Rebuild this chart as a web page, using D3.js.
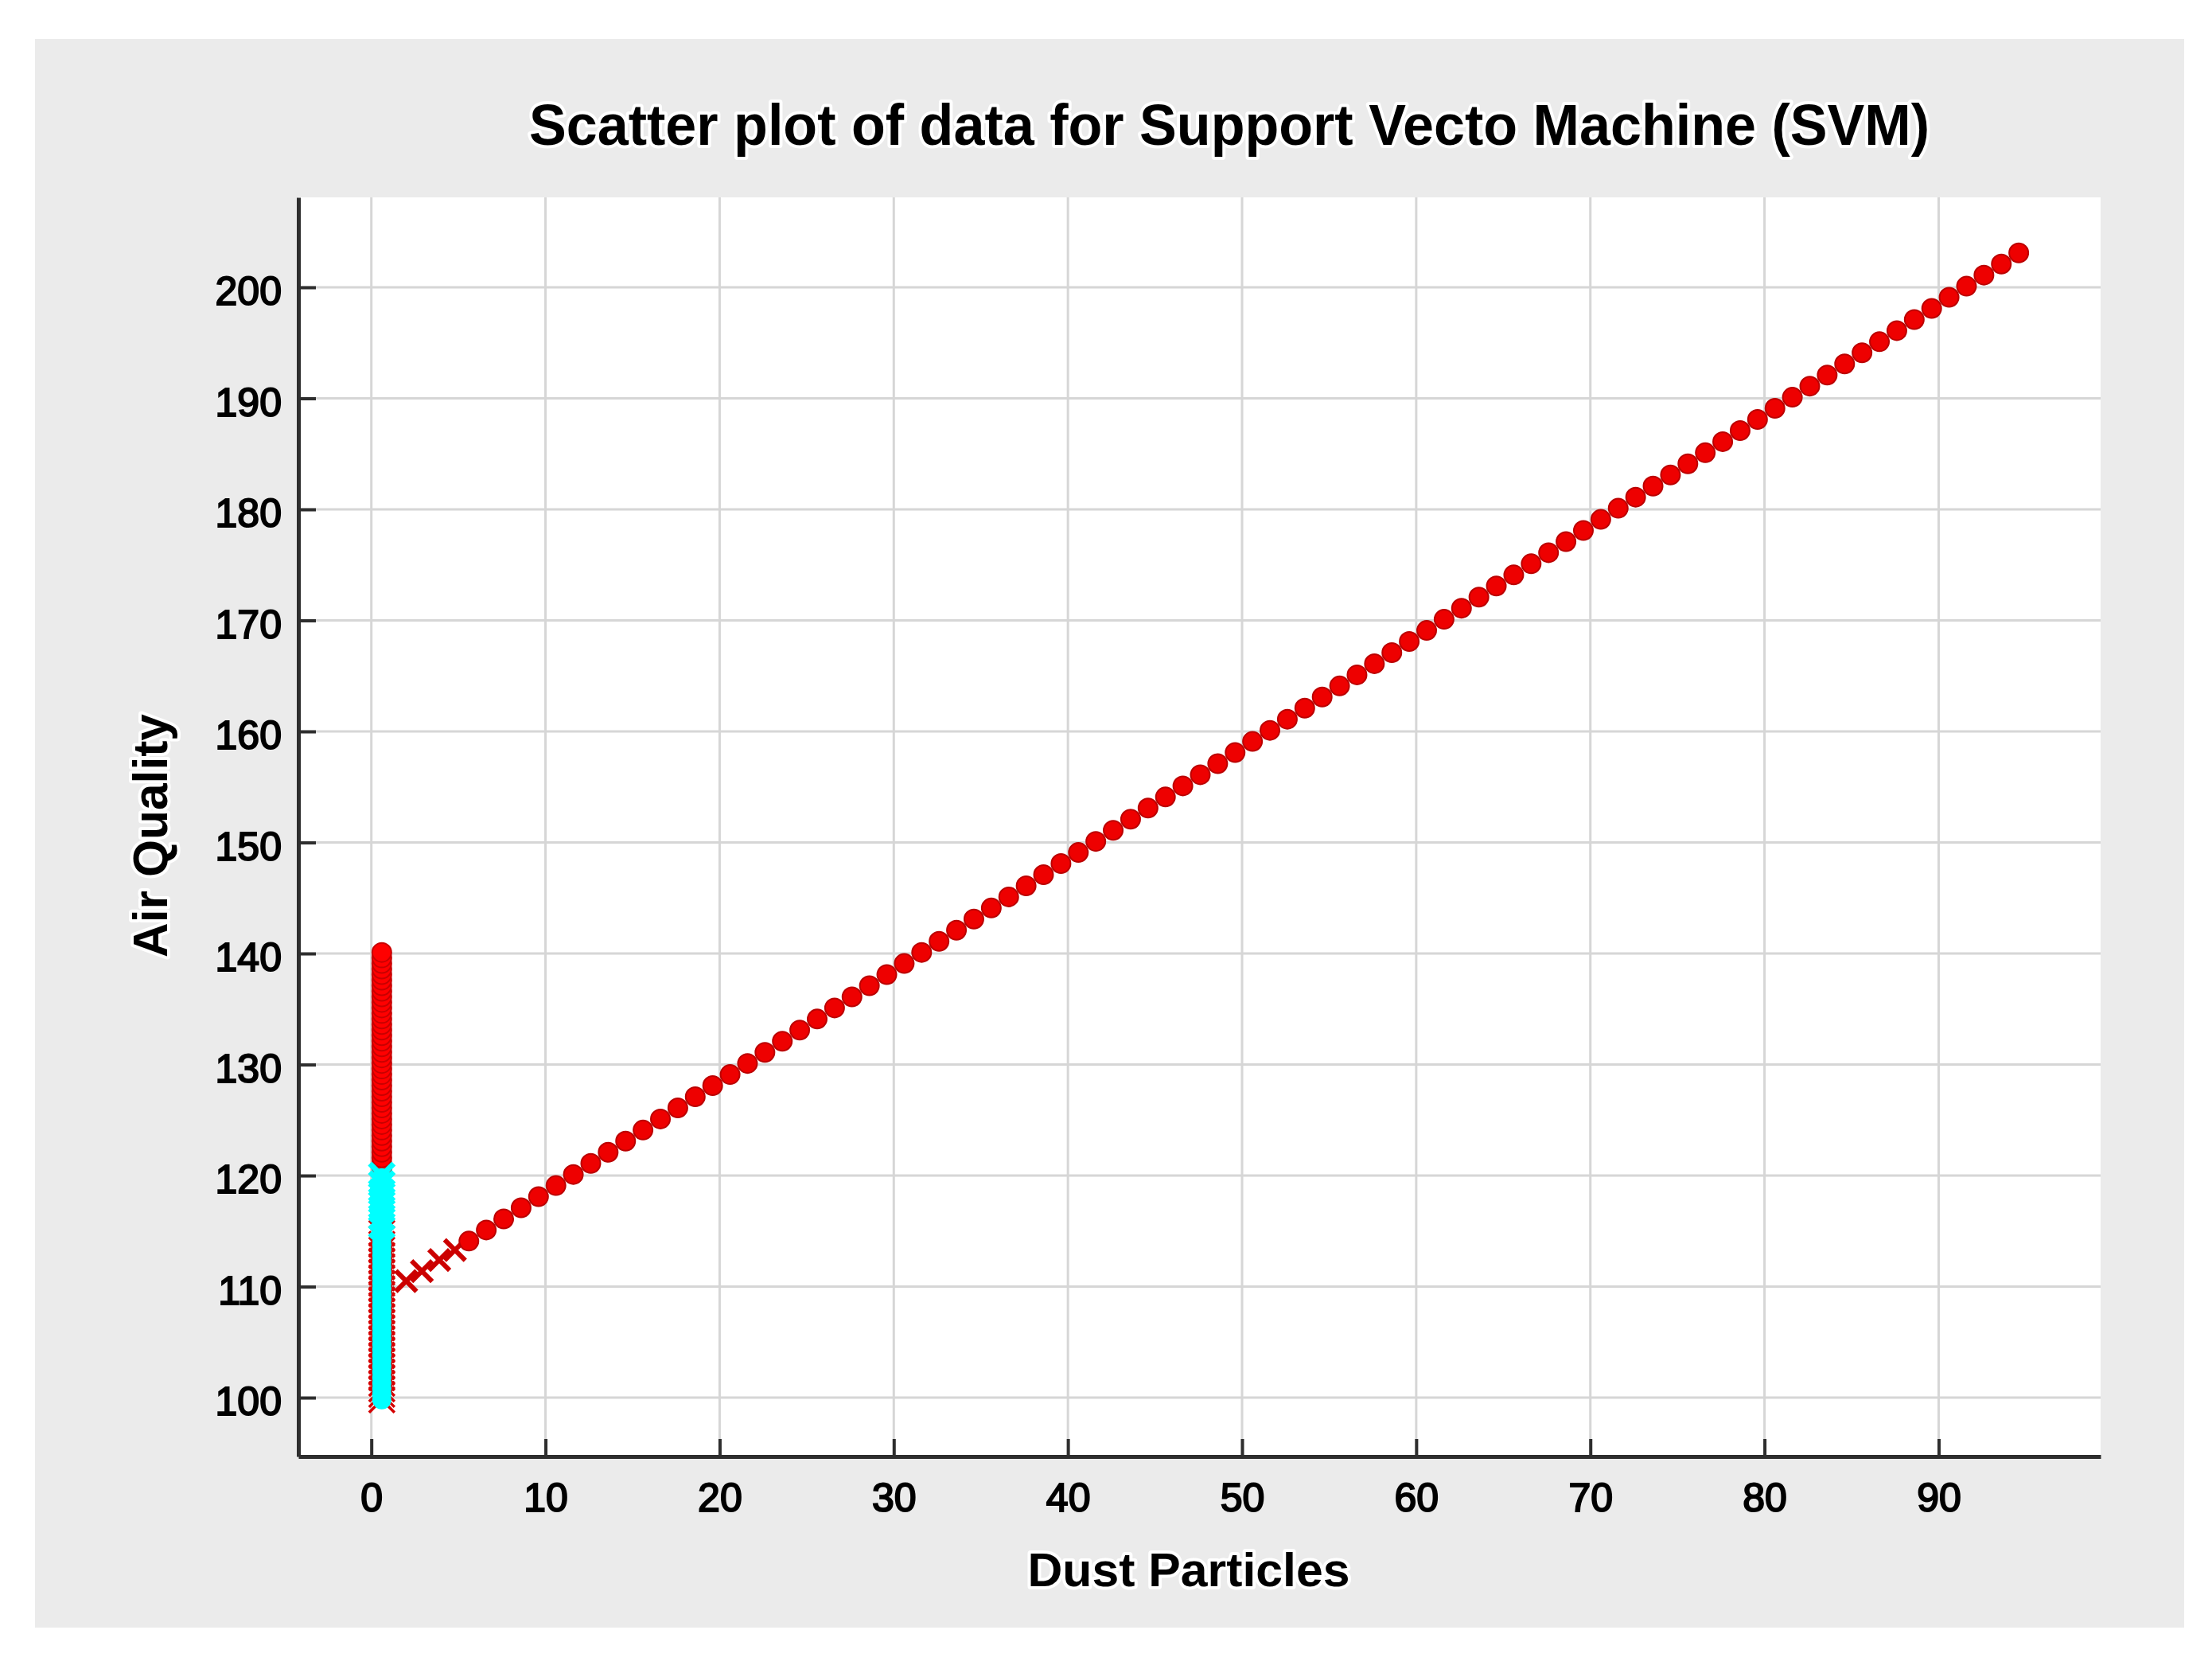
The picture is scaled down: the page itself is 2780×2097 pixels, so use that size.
<!DOCTYPE html>
<html>
<head>
<meta charset="utf-8">
<script src="https://cdn.jsdelivr.net/npm/d3@7.9.0/dist/d3.min.js"></script>
<style>
  body { margin: 0; background: #fff; }
  text { font-family: "Liberation Sans", Arial, sans-serif; font-weight: bold; fill: #000; }
  .halo { paint-order: stroke; stroke: #fff; stroke-width: 8px; stroke-linejoin: round; }
  .tick text { font-weight: normal; stroke: #000; stroke-width: 2px; }
</style>
</head>
<body>
<svg id="chart" width="2780" height="2097"></svg>
<script>
// tick labels
const xTicks = [0, 10, 20, 30, 40, 50, 60, 70, 80, 90];
const yTicks = [100, 110, 120, 130, 140, 150, 160, 170, 180, 190, 200];

// vertical stack of points at x ~ 0.6
const columnX = 0.6;
const redColumnCircleY = [120.6, 121.1, 121.6, 122.1, 122.6, 123.1, 123.6, 124.1, 124.6, 125.1,
  125.6, 126.1, 126.6, 127.1, 127.6, 128.1, 128.6, 129.1, 129.6, 130.1,
  130.6, 131.1, 131.6, 132.1, 132.6, 133.1, 133.6, 134.1, 134.6, 135.1,
  135.6, 136.1, 136.6, 137.1, 137.6, 138.1, 138.6, 139.1, 139.6, 140.1];
const redColumnCrossY = [99.8, 100.3, 100.8, 101.3, 101.8, 102.3, 102.8, 103.3, 103.8, 104.3,
  104.8, 105.3, 105.8, 106.3, 106.8, 107.3, 107.8, 108.3, 108.8, 109.3,
  109.8, 110.3, 110.8, 111.3, 111.8, 112.3, 112.8, 113.3, 113.8, 114.3, 114.8];
const cyanCircleY = [99.8, 100.3, 100.8, 101.3, 101.8, 102.3, 102.8, 103.3, 103.8, 104.3,
  104.8, 105.3, 105.8, 106.3, 106.8, 107.3, 107.8, 108.3, 108.8, 109.3,
  109.8, 110.3, 110.8, 111.3, 111.8, 112.3, 112.8, 113.3, 113.8, 114.3,
  114.8, 115.3, 115.8, 116.3, 116.8, 117.3, 117.8, 118.3, 118.8, 119.3, 119.8];
const cyanCrossY = [115.5, 116.25, 117.0, 117.75, 118.5, 119.25, 120.0];

// diagonal run
const redLineCrossX = [2.0, 2.9, 3.9, 4.8];
const redLineCrossY = [110.5, 111.4, 112.4, 113.3];
const redLineCircleX = [5.6, 6.6, 7.6, 8.6, 9.6, 10.6, 11.6, 12.6, 13.6, 14.6,
  15.6, 16.6, 17.6, 18.6, 19.6, 20.6, 21.6, 22.6, 23.6, 24.6,
  25.6, 26.6, 27.6, 28.6, 29.6, 30.6, 31.6, 32.6, 33.6, 34.6,
  35.6, 36.6, 37.6, 38.6, 39.6, 40.6, 41.6, 42.6, 43.6, 44.6,
  45.6, 46.6, 47.6, 48.6, 49.6, 50.6, 51.6, 52.6, 53.6, 54.6,
  55.6, 56.6, 57.6, 58.6, 59.6, 60.6, 61.6, 62.6, 63.6, 64.6,
  65.6, 66.6, 67.6, 68.6, 69.6, 70.6, 71.6, 72.6, 73.6, 74.6,
  75.6, 76.6, 77.6, 78.6, 79.6, 80.6, 81.6, 82.6, 83.6, 84.6,
  85.6, 86.6, 87.6, 88.6, 89.6, 90.6, 91.6, 92.6, 93.6, 94.6];
const redLineCircleY = [114.1, 115.1, 116.1, 117.1, 118.1, 119.1, 120.1, 121.1, 122.1, 123.1,
  124.1, 125.1, 126.1, 127.1, 128.1, 129.1, 130.1, 131.1, 132.1, 133.1,
  134.1, 135.1, 136.1, 137.1, 138.1, 139.1, 140.1, 141.1, 142.1, 143.1,
  144.1, 145.1, 146.1, 147.1, 148.1, 149.1, 150.1, 151.1, 152.1, 153.1,
  154.1, 155.1, 156.1, 157.1, 158.1, 159.1, 160.1, 161.1, 162.1, 163.1,
  164.1, 165.1, 166.1, 167.1, 168.1, 169.1, 170.1, 171.1, 172.1, 173.1,
  174.1, 175.1, 176.1, 177.1, 178.1, 179.1, 180.1, 181.1, 182.1, 183.1,
  184.1, 185.1, 186.1, 187.1, 188.1, 189.1, 190.1, 191.1, 192.1, 193.1,
  194.1, 195.1, 196.1, 197.1, 198.1, 199.1, 200.1, 201.1, 202.1, 203.1];

const svg = d3.select("#chart");

const area = { left: 375, right: 2640, top: 248, bottom: 1830 };

const x = d3.scaleLinear().domain([-4.19, 99.3]).range([area.left, area.right]);
const y = d3.scaleLinear().domain([94.7, 208.1]).range([area.bottom, area.top]);

// figure background
svg.append("rect")
  .attr("x", 44).attr("y", 49)
  .attr("width", 2701).attr("height", 1996)
  .attr("fill", "#ebebeb");

svg.append("rect")
  .attr("x", area.left).attr("y", area.top)
  .attr("width", area.right - area.left)
  .attr("height", area.bottom - area.top)
  .attr("fill", "#fff");

// grid
const grid = svg.append("g").attr("stroke", "#d6d6d6").attr("stroke-width", 3);
grid.selectAll(".gx").data(xTicks).join("line")
  .attr("x1", d => x(d)).attr("x2", d => x(d))
  .attr("y1", area.top).attr("y2", area.bottom);
grid.selectAll(".gy").data(yTicks).join("line")
  .attr("y1", d => y(d)).attr("y2", d => y(d))
  .attr("x1", area.left).attr("x2", area.right);

// marks
const crossPath = (s) => `M${-s},${-s}L${s},${s}M${-s},${s}L${s},${-s}`;

svg.append("g")
  .selectAll("path")
  .data(redColumnCrossY)
  .join("path")
  .attr("transform", d => `translate(${x(columnX)},${y(d)})`)
  .attr("d", crossPath(16))
  .attr("fill", "none")
  .attr("stroke", "#d40000")
  .attr("stroke-width", 3.5);

svg.append("g")
  .selectAll("circle")
  .data(redColumnCircleY)
  .join("circle")
  .attr("cx", x(columnX))
  .attr("cy", d => y(d))
  .attr("r", 12)
  .attr("fill", "#ff0000")
  .attr("stroke", "#c80000")
  .attr("stroke-width", 2);

svg.append("g")
  .selectAll("circle")
  .data(cyanCircleY)
  .join("circle")
  .attr("cx", x(columnX))
  .attr("cy", d => y(d))
  .attr("r", 12)
  .attr("fill", "#00ffff");

svg.append("g")
  .selectAll("path")
  .data(cyanCrossY)
  .join("path")
  .attr("transform", d => `translate(${x(columnX)},${y(d)})`)
  .attr("d", crossPath(15))
  .attr("fill", "none")
  .attr("stroke", "#00ffff")
  .attr("stroke-width", 7);

svg.append("g")
  .selectAll("path")
  .data(redLineCrossX)
  .join("path")
  .attr("transform", (d, i) => `translate(${x(d)},${y(redLineCrossY[i])})`)
  .attr("d", crossPath(13))
  .attr("fill", "none")
  .attr("stroke", "#cc0000")
  .attr("stroke-width", 6);

svg.append("g")
  .selectAll("circle")
  .data(redLineCircleX)
  .join("circle")
  .attr("cx", d => x(d))
  .attr("cy", (d, i) => y(redLineCircleY[i]))
  .attr("r", 12)
  .attr("fill", "#ee0000")
  .attr("stroke", "#bb0000")
  .attr("stroke-width", 2);

// axes
const xAxis = svg.append("g")
  .attr("transform", `translate(0,${area.bottom})`)
  .call(d3.axisBottom(x).tickValues(xTicks).tickSize(-22).tickSizeOuter(0).tickPadding(33));

const yAxis = svg.append("g")
  .attr("transform", `translate(${area.left},0)`)
  .call(d3.axisLeft(y).tickValues(yTicks).tickSize(-22).tickSizeOuter(0).tickPadding(21));

[xAxis, yAxis].forEach(g => {
  g.select(".domain").attr("stroke", "#2e2e2e").attr("stroke-width", 5);
  g.selectAll(".tick line").attr("stroke", "#2e2e2e").attr("stroke-width", 4);
  g.selectAll(".tick text")
    .attr("font-family", null)
    .attr("font-size", 50);
});
yAxis.selectAll(".tick text").attr("dy", "0.43em");

// titles
svg.append("text")
  .attr("class", "halo")
  .attr("x", 1545).attr("y", 182)
  .attr("text-anchor", "middle")
  .attr("font-size", 72)
  .attr("textLength", 1760)
  .attr("lengthAdjust", "spacingAndGlyphs")
  .text("Scatter plot of data for Support Vecto Machine (SVM)");

svg.append("text")
  .attr("class", "halo")
  .attr("x", 1494).attr("y", 1993)
  .attr("text-anchor", "middle")
  .attr("font-size", 60)
  .attr("textLength", 405)
  .attr("lengthAdjust", "spacingAndGlyphs")
  .text("Dust Particles");

svg.append("text")
  .attr("class", "halo")
  .attr("transform", "translate(210,1050) rotate(-90)")
  .attr("text-anchor", "middle")
  .attr("font-size", 62)
  .attr("textLength", 306)
  .attr("lengthAdjust", "spacingAndGlyphs")
  .text("Air Quality");
</script>
</body>
</html>
